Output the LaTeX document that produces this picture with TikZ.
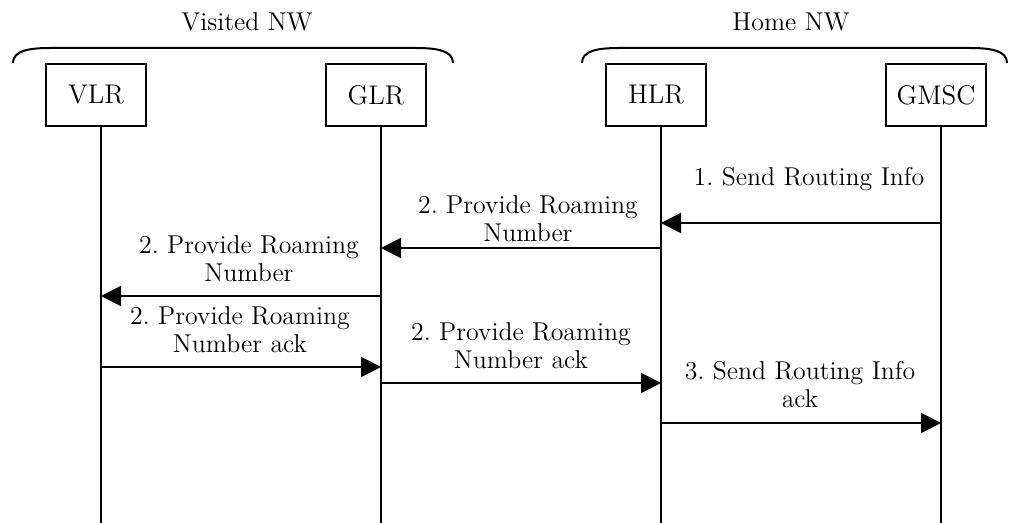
\documentclass[tikz,border=0pt]{standalone}
\usepackage{fontspec}
\usepackage{tikz}
\usetikzlibrary{positioning, arrows.meta}
\frenchspacing

\begin{document}
\begin{tikzpicture}[x=0.5pt, y=-0.5pt,
        ent/.style={draw, line width=1pt, minimum width=50pt, minimum height=31pt, font=\fontsize{13.5}{14}\selectfont},
        lbl/.style={align=center, inner sep=0pt, font=\fontsize{12.9}{14}\selectfont},
        life/.style={line width=1pt},
        msg/.style={line width=1pt, -{Triangle[length=10pt, width=10pt]}}]
                \useasboundingbox (0,0) rectangle (1011,523);

                % network groups
                \draw[line width=1pt] (13,63) .. controls (13,51) and (28,48) .. (50,48) -- (416,48) .. controls (438,48) and (453,51) .. (453,63);
                \draw[line width=1pt] (582,63) .. controls (582,51) and (597,48) .. (619,48) -- (970,48) .. controls (992,48) and (1007,51) .. (1007,63);
                \node [lbl] (visited) at (247,22) {Visited NW};
                \node [lbl] (home) at (791,22) {Home NW};

                % entities
                \node [ent] (VLR) at (96,95) {VLR};
                \node [ent] (GLR) at (376,95) {GLR};
                \node [ent] (HLR) at (656,95) {HLR};
                \node [ent] (GMSC) at (936,95) {GMSC};

                \coordinate (bottom) at (0,523);
                \foreach \n in {VLR, GLR, HLR, GMSC} {
                    \coordinate (\n-l) at ([xshift=2.5pt]\n.south);
                    \draw[life] (\n-l) -- (\n-l |- bottom);
                }

                % messages
                \draw[msg] (GMSC-l |- 0,223) -- (HLR-l |- 0,223);
                \draw[msg] (HLR-l |- 0,248) -- (GLR-l |- 0,248);
                \draw[msg] (GLR-l |- 0,296) -- (VLR-l |- 0,296);
                \draw[msg] (VLR-l |- 0,367) -- (GLR-l |- 0,367);
                \draw[msg] (GLR-l |- 0,383) -- (HLR-l |- 0,383);
                \draw[msg] (HLR-l |- 0,423) -- (GMSC-l |- 0,423);

                \node [lbl, anchor=base] (m1) at (809,186) {1. Send Routing Info};
                \node [lbl] (m2) at (528,219) {2. Provide Roaming\\Number};
                \node [lbl] (m3) at (249,259) {2. Provide Roaming\\Number};
                \node [lbl] (m4) at (240,330) {2. Provide Roaming\\Number ack};
                \node [lbl] (m5) at (521,346) {2. Provide Roaming\\Number ack};
                \node [lbl] (m6) at (800,385) {3. Send Routing Info\\ack};
\end{tikzpicture}
\end{document}
